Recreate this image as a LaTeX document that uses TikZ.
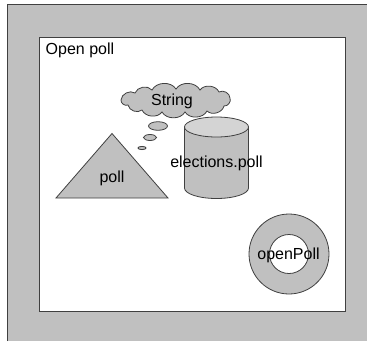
\documentclass[tikz,border=0pt]{standalone}
\usepackage{fontspec}
\setmainfont{Liberation Sans}
\usetikzlibrary{shapes.geometric}
\definecolor{greyfill}{HTML}{C0C0C0}
\definecolor{lidgrey}{HTML}{D4D4D4}
\tikzset{
  outline/.style={draw=black!75, line width=0.8pt},
  label/.style={font=\fontsize{16}{18}\selectfont, inner sep=0pt},
  puff/.style={bend left=60},
}
\begin{document}
\begin{tikzpicture}[x=1pt,y=-1pt]
\useasboundingbox (0,0) rectangle (367,341);
% grey backdrop with its top and left edges outlined
\fill[greyfill] (7.5,4.5) rectangle (367,341);
\draw[black!75, line width=0.8pt] (7.5,341) -- (7.5,4.5) -- (367,4.5);
% white frame
\draw[outline, fill=white] (39.5,37) rectangle (345.5,311);
\node[label, anchor=base west] (title) at (45.5,54) {Open poll};

% cloud outline built from puffs, then its trail of bubbles
\draw[outline, fill=greyfill] (121,100)
  to[puff] (135,93) to[puff] (152,90) to[puff] (176,89) to[puff] (200,90)
  to[puff] (219,92) to[puff] (230,98) to[puff] (224,106) to[puff] (207,111)
  to[puff] (185,112) to[puff] (162,112) to[puff] (142,110) to[puff] (128,105)
  to[puff] cycle;
\node[label] (string) at (172,101) {String};
\draw[outline, fill=greyfill] (158,126) ellipse [x radius=9.5, y radius=4.3];
\draw[outline, fill=greyfill] (150,137.5) ellipse [x radius=6.5, y radius=3];
\draw[outline, fill=greyfill] (142,148) ellipse [x radius=4, y radius=1.6];

% triangle
\draw[outline, fill=greyfill] (112,133.5) -- (168,198) -- (56,198) -- cycle;
\node[label] (poll) at (112,178) {poll};

% cylinder: body first, lid on top
\draw[outline, fill=greyfill] (184.5,127) -- (184.5,188)
   arc[start angle=180, end angle=0, x radius=32, y radius=10.5]
   -- (248.5,127);
\draw[outline, fill=lidgrey] (216.5,127) ellipse [x radius=32, y radius=10];
\node[label] (elections) at (216.5,163) {elections.poll};

% ring
\draw[outline, fill=greyfill, even odd rule] (289,254) circle[radius=40] (289,254) circle[radius=19.5];
\node[label] (open) at (288.5,255) {openPoll};
\end{tikzpicture}
\end{document}
